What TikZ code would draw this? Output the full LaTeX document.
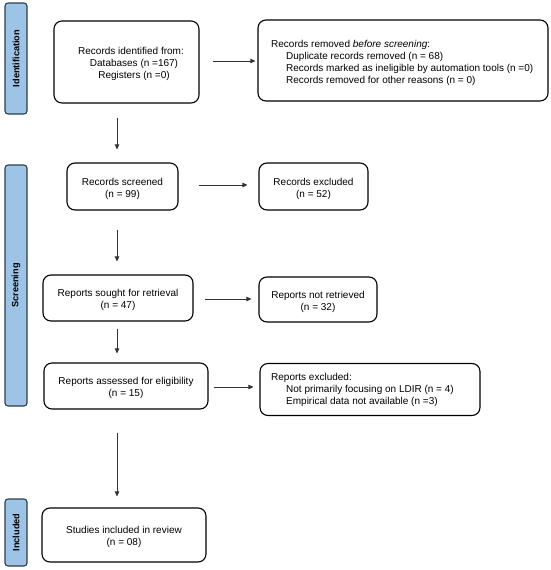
\documentclass[tikz,border=0pt]{standalone}
\usepackage{fontspec}
\setmainfont{Liberation Sans}
\usetikzlibrary{arrows.meta,calc}
\definecolor{barfill}{HTML}{9DC3E6}
\definecolor{barline}{HTML}{2E3E4E}
\definecolor{arrcol}{HTML}{333333}
\tikzset{
  txt/.style={font=\fontsize{10}{12}\selectfont, inner sep=0pt},
  ctxt/.style={txt, align=center, yshift=-2pt},
  box/.style={draw=black, line width=1.1pt, rounded corners=8pt, fill=white, inner sep=0pt},
  bar/.style={draw=barline, line width=1.1pt, rounded corners=3pt, fill=barfill, inner sep=0pt},
  barlabel/.style={rotate=90, font=\bfseries\fontsize{9.2}{10}\selectfont},
  arr/.style={draw=arrcol, line width=0.7pt, -{Triangle[length=5pt,width=4.5pt]}}
}
\begin{document}
\begin{tikzpicture}[x=1pt,y=-1pt]
\useasboundingbox (0,0) rectangle (550,570);
% phase bars
\node[bar, minimum width=22pt, minimum height=111pt] (bid) at (16,58.5) {};
\node[barlabel] (lid) at (bid.center) {Identification};
\node[bar, minimum width=22pt, minimum height=241pt] (bsc) at (16,285.5) {};
\node[barlabel] (lsc) at (bsc.center) {Screening};
\node[bar, minimum width=22pt, minimum height=67pt] (bin) at (16,532.5) {};
\node[barlabel] (lin) at (bin.center) {Included};
% boxes
\node[box, minimum width=145pt, minimum height=82pt] (ident) at (126.5,62) {};
\node[ctxt] (identt) at (131,62) {Records identified from:\\ \hspace*{6pt}Databases (n =167)\\ \hspace*{6pt}Registers (n =0)};
\node[box, minimum width=290pt, minimum height=81pt] (removed) at (403,60.5) {};
\node[txt, align=left, anchor=west, yshift=-2pt] (removedt) at (271,60.5) {Records removed \textit{before screening}:\\
\hspace*{15pt}Duplicate records removed (n = 68)\\
\hspace*{15pt}Records marked as ineligible by automation tools (n =0)\\
\hspace*{15pt}Records removed for other reasons (n = 0)};
\node[box, minimum width=111pt, minimum height=47pt] (screened) at (122.5,186.5) {};
\node[ctxt] (screenedt) at (screened.center) {Records screened\\(n = 99)};
\node[box, minimum width=109pt, minimum height=47pt] (excluded) at (313.5,186.5) {};
\node[ctxt] (excludedt) at (excluded.center) {Records excluded\\(n = 52)};
\node[box, minimum width=150pt, minimum height=46pt] (sought) at (118,298) {};
\node[ctxt] (soughtt) at (sought.center) {Reports sought for retrieval\\(n = 47)};
\node[box, minimum width=118pt, minimum height=45pt] (notret) at (318,299.5) {};
\node[ctxt] (notrett) at (notret.center) {Reports not retrieved\\(n = 32)};
\node[box, minimum width=164pt, minimum height=46pt] (assessed) at (126,386) {};
\node[ctxt] (assessedt) at (assessed.center) {Reports assessed for eligibility\\(n = 15)};
\node[box, minimum width=220pt, minimum height=52pt] (rexcl) at (370,389.5) {};
\node[txt, align=left, anchor=west, yshift=-2pt] (rexclt) at (271,388) {Reports excluded:\\
\hspace*{15pt}Not primarily focusing on LDIR (n = 4)\\
\hspace*{15pt}Empirical data not available (n =3)};
\node[box, minimum width=164pt, minimum height=54pt] (included) at (124,535) {};
\node[ctxt] (includedt) at (included.center) {Studies included in review\\(n = 08)};
% arrows
\coordinate (ax) at (117,0);
\draw[arr, shorten <=13pt, shorten >=2pt] (ident.east |- 0,61) -- (removed.west |- 0,61);
\draw[arr, shorten <=14pt, shorten >=13pt] (ident.south -| ax) -- (screened.north -| ax);
\draw[arr, shorten <=20pt, shorten >=11pt] (screened.east |- 0,185) -- (excluded.west |- 0,185);
\draw[arr, shorten <=19pt, shorten >=13pt] (screened.south -| ax) -- (sought.north -| ax);
\draw[arr, shorten <=11pt, shorten >=7pt] (sought.east |- 0,299) -- (notret.west |- 0,299);
\draw[arr, shorten <=7pt, shorten >=9pt] (sought.south -| ax) -- (assessed.north -| ax);
\draw[arr, shorten <=5pt, shorten >=6pt] (assessed.east |- 0,387) -- (rexcl.west |- 0,387);
\draw[arr, shorten <=23pt, shorten >=11pt] (assessed.south -| ax) -- (included.north -| ax);
\end{tikzpicture}
\end{document}
